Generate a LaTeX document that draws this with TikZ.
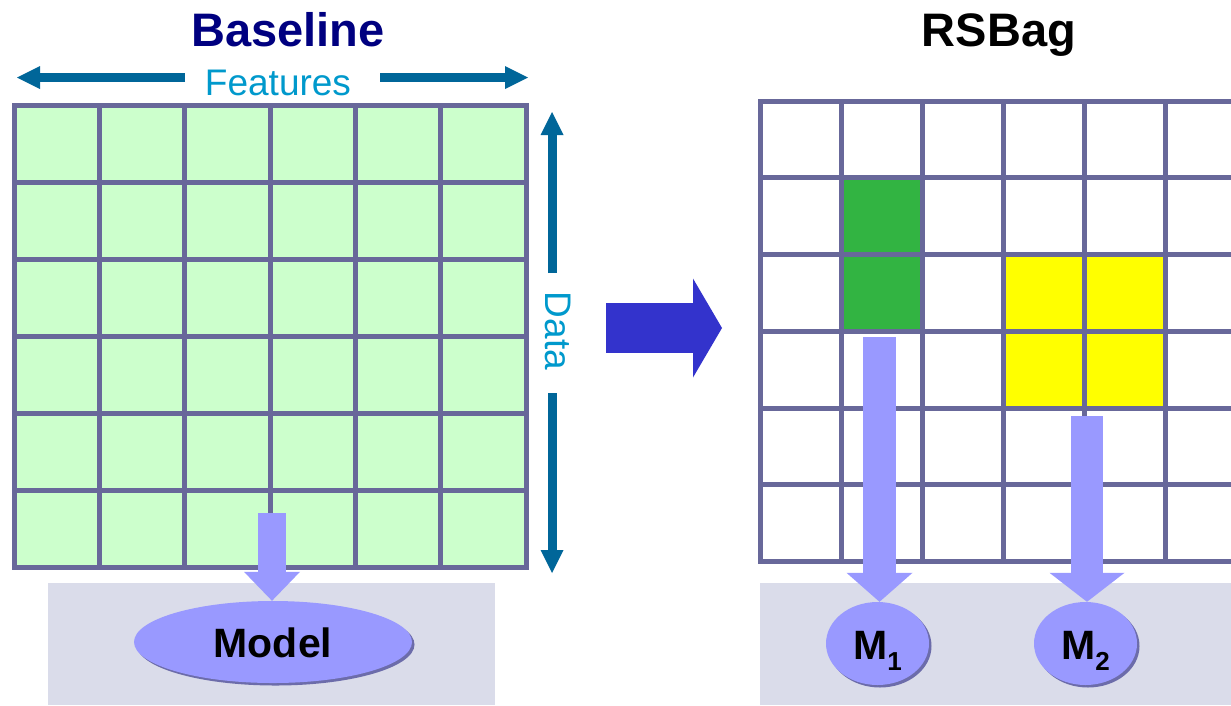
\documentclass[tikz,border=0pt]{standalone}
\usepackage{fontspec}
\setmainfont{Liberation Sans}
\usetikzlibrary{shapes.geometric,shadows,arrows.meta}
\definecolor{gridc}{RGB}{104,104,154}
\definecolor{lgreen}{RGB}{204,255,204}
\definecolor{dgreen}{RGB}{50,180,66}
\definecolor{yell}{RGB}{255,255,0}
\definecolor{panel}{RGB}{218,220,234}
\definecolor{lav}{RGB}{153,153,255}
\definecolor{bigblue}{RGB}{51,51,204}
\definecolor{dimblue}{RGB}{0,102,153}
\definecolor{txtcyan}{RGB}{0,153,204}
\definecolor{navy}{RGB}{0,0,128}
\definecolor{shadowc}{RGB}{108,108,170}
\tikzset{
  gl/.style={draw=gridc, line width=5pt, line cap=rect},
  title/.style={font=\bfseries\fontsize{47}{50}\selectfont, anchor=base, inner sep=0pt},
  dimtext/.style={text=txtcyan, font=\fontsize{37}{40}\selectfont, anchor=base, inner sep=0pt},
  dimarrow/.style={draw=dimblue, line width=9pt, -{Triangle[length=23pt,width=23pt,line width=0pt]}},
  modelnode/.style={ellipse, fill=lav, inner sep=0pt, text height=31pt, text depth=0pt,
    font=\bfseries\fontsize{41}{43}\selectfont,
    drop shadow={shadow xshift=2.5pt, shadow yshift=-2.5pt, opacity=1, fill=shadowc}},
  lavarrow/.style={draw=lav, -{Triangle[length=29pt,width=#1,line width=0pt]}},
}
\newcommand{\subnum}[1]{\raisebox{-11pt}{\fontsize{26}{26}\selectfont #1}}
\begin{document}
\begin{tikzpicture}[x=1pt,y=-1pt]
\useasboundingbox (0,0) rectangle (1231,705);
\fill[white] (0,0) rectangle (1231,705);
% titles
\node[title, text=navy] (tbase) at (288,46) {Baseline};
\node[title, text=black] (trsbag) at (999,46) {RSBag};
% dimension labels
\node[dimtext] (feat) at (278,95) {Features};
\node[dimtext, rotate=-90] (data) at (545,331) {Data};
\coordinate (fl0) at (185,77.5); \coordinate (fl1) at (17,77.5);
\coordinate (fr0) at (380,77.5); \coordinate (fr1) at (528,77.5);
\coordinate (dt0) at (552,273); \coordinate (dt1) at (552,112);
\coordinate (db0) at (552,393); \coordinate (db1) at (552,573);
\draw[dimarrow] (fl0) -- (fl1);
\draw[dimarrow] (fr0) -- (fr1);
\draw[dimarrow] (dt0) -- (dt1);
\draw[dimarrow] (db0) -- (db1);
% panels
\fill[panel] (48,583) rectangle (495,705);
\fill[panel] (760,583) rectangle (1231,705);
% left grid
\fill[lgreen] (14,105) rectangle (526,567);
\foreach \i in {0,...,6} {
  \draw[gl] ({14+\i*85.333},105) -- ({14+\i*85.333},567);
  \draw[gl] (14,{105+\i*77}) -- (526,{105+\i*77});
}
% right grid
\fill[dgreen] (841,178) rectangle (922,331);
\fill[yell] (1003,254.67) rectangle (1165,408);
\foreach \i in {0,...,5} {
  \draw[gl] ({760+\i*81},101) -- ({760+\i*81},561.5);
}
\foreach \j in {0,...,6} {
  \draw[gl] (760,{101+\j*76.75}) -- (1240,{101+\j*76.75});
}
% big arrow
\coordinate (ba0) at (606,328); \coordinate (ba1) at (722,328);
\draw[draw=bigblue, line width=50pt, -{Triangle[length=29pt,width=99pt,line width=0pt]}] (ba0) -- (ba1);
% models
\node[modelnode, minimum width=278pt, minimum height=82pt] (model) at (273,642) {Model};
\node[modelnode, minimum width=103pt, minimum height=83pt] (m1) at (877.5,643.5) {M\subnum{1}};
\node[modelnode, minimum width=103pt, minimum height=83pt] (m2) at (1085.5,643.5) {M\subnum{2}};
% lavender arrows
\coordinate (la0) at (272,513);
\coordinate (ra0) at (879.5,337);
\coordinate (rb0) at (1087,416);
\draw[lavarrow=56pt, line width=28pt] (la0) -- (la0 |- model.north);
\draw[lavarrow=66pt, line width=33pt] (ra0) -- (ra0 |- m1.north);
\draw[lavarrow=75pt, line width=32pt] (rb0) -- (rb0 |- m2.north);
\end{tikzpicture}
\end{document}
